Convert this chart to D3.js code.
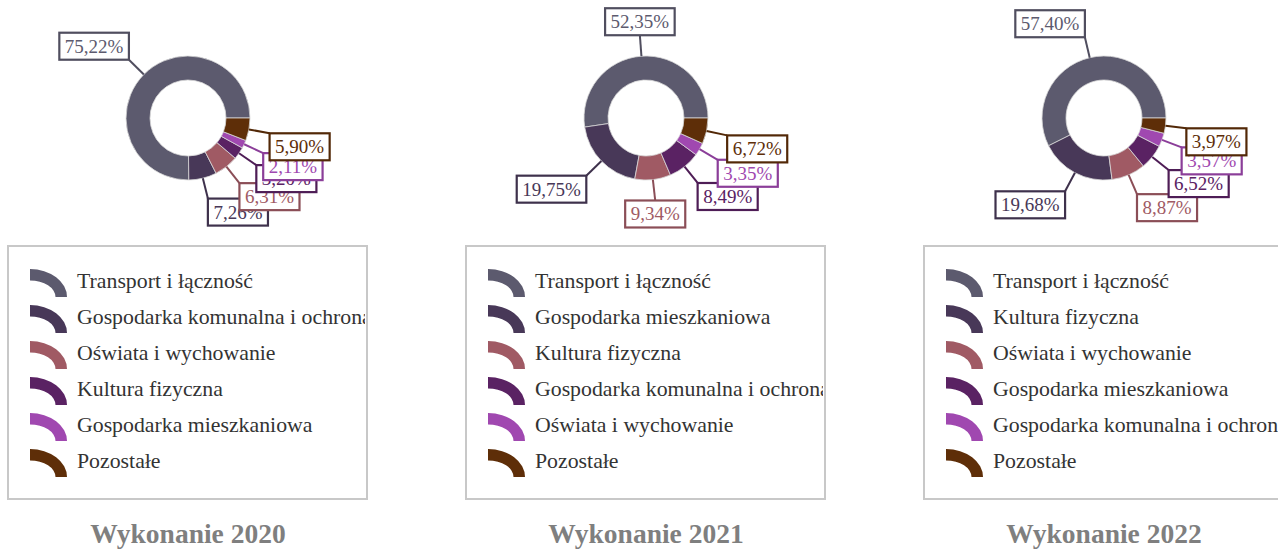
<!DOCTYPE html>
<html lang="pl">
<head>
<meta charset="utf-8">
<script src="https://cdn.jsdelivr.net/npm/d3@7"></script>
<style>
  html, body { margin: 0; padding: 0; background: #fff; }
  svg { display: block; }
  text { font-family: "Liberation Serif", "Times New Roman", serif; }
</style>
</head>
<body>
<svg id="chart" width="1278" height="549"></svg>
<script>
// Struktura wydatków według działów – wykonanie w latach 2020–2022 (%)
const years = ["Wykonanie 2020", "Wykonanie 2021", "Wykonanie 2022"];

const categories2020 = ["Transport i łączność", "Gospodarka komunalna i ochrona środowiska", "Oświata i wychowanie", "Kultura fizyczna", "Gospodarka mieszkaniowa", "Pozostałe"];
const values2020 = [75.22, 7.26, 6.31, 3.20, 2.11, 5.90];

const categories2021 = ["Transport i łączność", "Gospodarka mieszkaniowa", "Kultura fizyczna", "Gospodarka komunalna i ochrona środowiska", "Oświata i wychowanie", "Pozostałe"];
const values2021 = [52.35, 19.75, 9.34, 8.49, 3.35, 6.72];

const categories2022 = ["Transport i łączność", "Kultura fizyczna", "Oświata i wychowanie", "Gospodarka mieszkaniowa", "Gospodarka komunalna i ochrona środowiska", "Pozostałe"];
const values2022 = [57.40, 19.68, 8.87, 6.52, 3.57, 3.97];

// kolory przypisane do kolejnych pozycji
const palette = ["#5c5a6e", "#483858", "#a05a64", "#5a2263", "#a048b0", "#5e2e08"];

const panels = [
  { title: years[0], cats: categories2020, vals: values2020 },
  { title: years[1], cats: categories2021, vals: values2021 },
  { title: years[2], cats: categories2022, vals: values2022 }
];

const svg = d3.select("#chart");
const plLocale = d3.formatLocale({ decimal: ",", thousands: " ", grouping: [3], currency: ["", " zł"] });
const fmt = v => plLocale.format(".2f")(v) + "%";

const panelStep = 458;
const cx0 = 188, cy = 118;
const outerR = 62, innerR = 38, labelR = 83;
const labelFont = 19;

const pie = d3.pie().sort(null).value(d => d.v)
  .startAngle(Math.PI / 2).endAngle(Math.PI / 2 - 2 * Math.PI);
const arc = d3.arc().innerRadius(innerR).outerRadius(outerR);

// miernik szerokości tekstu etykiet
const measure = svg.append("text").attr("font-size", labelFont).attr("visibility", "hidden");
function textWidth(s) { measure.text(s); return measure.node().getComputedTextLength(); }

panels.forEach((p, i) => {
  const ox = i * panelStep;
  const data = p.vals.map((v, k) => ({ v, name: p.cats[k], color: palette[k] }));
  const g = svg.append("g");

  // pierścień
  const donut = g.append("g").attr("transform", `translate(${cx0 + ox},${cy})`);
  const arcs = pie(data);
  donut.selectAll("path.slice").data(arcs).join("path")
    .attr("class", "slice")
    .attr("d", arc)
    .attr("fill", d => d.data.color)
    .attr("stroke", "#d8d8d8")
    .attr("stroke-width", 0.8);

  // etykiety z linią odniesienia
  arcs.forEach(a => {
    const mid = (a.startAngle + a.endAngle) / 2;
    const dx = Math.sin(mid), dy = -Math.cos(mid);
    const x1 = dx * outerR, y1 = dy * outerR;
    const x2 = dx * labelR, y2 = dy * labelR;
    const label = fmt(a.data.v);
    const w = textWidth(label) + 11, h = 27;
    let bx;
    if (Math.abs(dx) < 0.174) bx = x2 - w / 2;
    else bx = dx > 0 ? x2 : x2 - w;
    const by = dy > 0 ? y2 : y2 - h;
    const border = d3.color(a.data.color).darker(0.4).formatHex();
    const lg = donut.append("g");
    lg.append("line")
      .attr("x1", x1).attr("y1", y1).attr("x2", x2).attr("y2", y2)
      .attr("stroke", border).attr("stroke-width", 2);
    lg.append("rect")
      .attr("x", bx).attr("y", by).attr("width", w).attr("height", h)
      .attr("fill", "#fff").attr("stroke", border).attr("stroke-width", 2.2);
    lg.append("text")
      .attr("x", bx + w / 2).attr("y", by + h / 2 + 6.5)
      .attr("text-anchor", "middle")
      .attr("font-size", labelFont)
      .attr("fill", a.data.color)
      .text(label);
  });

  // legenda
  const boxX = 8 + ox, boxY = 246, boxW = 359, boxH = 253;
  const clipId = "legclip" + i;
  svg.append("defs").append("clipPath").attr("id", clipId)
    .append("rect").attr("x", boxX + 1).attr("y", boxY).attr("width", boxW - 3).attr("height", boxH);
  g.append("rect")
    .attr("x", boxX).attr("y", boxY).attr("width", boxW).attr("height", boxH)
    .attr("fill", "#fff").attr("stroke", "#c8c8c8").attr("stroke-width", 2);

  const leg = g.append("g").attr("clip-path", `url(#${clipId})`);
  const rowY = d3.scalePoint().domain(d3.range(data.length)).range([288, 468]);
  const swatch = (x, y) => {
    // ćwiartka pierścienia (eliptyczna), środek w lewym dolnym rogu
    const Rx = 37, Ry = 28, t = 11.5;
    const rx = Rx - t, ry = Ry - t;
    return `M${x},${y - Ry} A${Rx},${Ry} 0 0 1 ${x + Rx},${y} L${x + rx},${y} A${rx},${ry} 0 0 0 ${x},${y - ry} Z`;
  };
  data.forEach((d, k) => {
    const y = rowY(k);
    leg.append("path").attr("d", swatch(30 + ox, y + 9)).attr("fill", d.color);
    leg.append("text")
      .attr("x", 77 + ox).attr("y", y)
      .attr("font-size", 21.8)
      .attr("fill", "#333")
      .text(d.name);
  });

  // tytuł
  g.append("text")
    .attr("x", cx0 + ox).attr("y", 543)
    .attr("text-anchor", "middle")
    .attr("font-size", 27.5)
    .attr("font-weight", "bold")
    .attr("fill", "#7f7f7f")
    .text(p.title);
});
measure.remove();
</script>
</body>
</html>
